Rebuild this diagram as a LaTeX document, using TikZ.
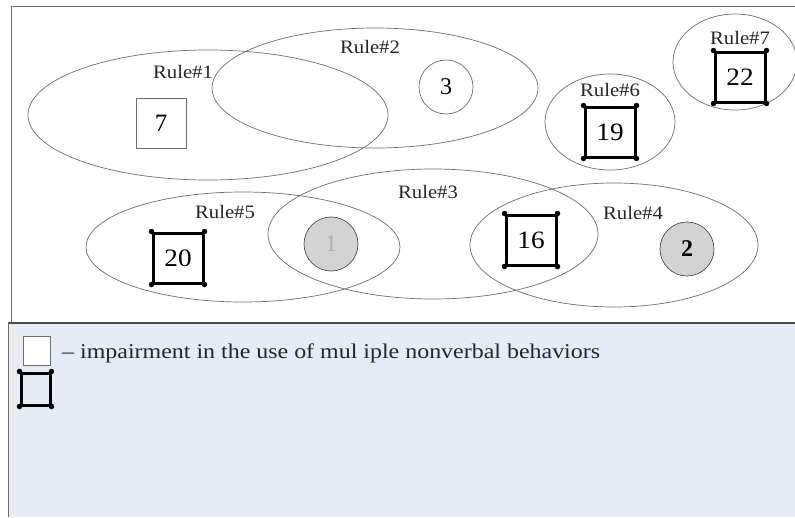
\documentclass[tikz,border=0pt]{standalone}
\usepackage{fontspec}
\setmainfont{Liberation Serif}
\usetikzlibrary{shapes.geometric}
\definecolor{panelblue}{HTML}{E5ECF6}
\definecolor{linegray}{HTML}{6E6E6E}
\definecolor{circfill}{HTML}{D3D3D3}
\newcommand{\hs}[1]{\scalebox{1.09}[1]{#1}}
\tikzset{
  rulering/.style={draw=linegray, line width=0.7pt, ellipse, inner sep=0pt},
  rulelabel/.style={inner sep=0pt, font=\fontsize{19}{20}\selectfont, text=black!85},
  numbox/.style={draw=linegray, line width=0.8pt, minimum width=50pt, minimum height=50pt, inner sep=0pt, font=\fontsize{25}{26}\selectfont},
  thickbox/.style={draw=black, line width=3pt, minimum width=50pt, minimum height=50pt, inner sep=0pt, font=\fontsize{25}{26}\selectfont},
  numcirc/.style={draw=linegray, line width=0.7pt, circle, minimum size=54pt, inner sep=0pt, font=\fontsize{24}{25}\selectfont},
  graycirc/.style={numcirc, fill=circfill, draw=black!70},
  cornerdot/.style={fill=black, circle, inner sep=0pt, minimum size=5.5pt}
}
\newcommand{\cornerdots}[1]{%
  \node[cornerdot] at (#1.north west) {};
  \node[cornerdot] at (#1.north east) {};
  \node[cornerdot] at (#1.south west) {};
  \node[cornerdot] at (#1.south east) {};}
\begin{document}
\begin{tikzpicture}[x=1pt,y=-1pt]
\useasboundingbox (0,0) rectangle (795,517);
% panels
\fill[white] (0,0) rectangle (795,517);
\fill[panelblue] (8,323) rectangle (795,517);
\draw[linegray, line width=0.8pt] (11,323) -- (11,6) -- (795,6);
\draw[black!70, line width=1.6pt] (8,323) -- (795,323);
\draw[linegray, line width=1pt] (8,323) -- (8,517);

% rule ellipses
\node[rulering, minimum width=360pt, minimum height=130pt] (r1) at (208,115) {};
\node[rulering, minimum width=326pt, minimum height=120pt] (r2) at (375,88) {};
\node[rulering, minimum width=330pt, minimum height=130pt] (r3) at (433,234) {};
\node[rulering, minimum width=288pt, minimum height=124pt] (r4) at (614,245) {};
\node[rulering, minimum width=314pt, minimum height=110pt] (r5) at (243,247) {};
\node[rulering, minimum width=130pt, minimum height=96pt] (r6) at (610,122) {};
\node[rulering, minimum width=124pt, minimum height=96pt] (r7) at (735,62) {};

% labels
\node[rulelabel] (l1) at (183,72) {\hs{Rule\#1}};
\node[rulelabel] (l2) at (370,47) {\hs{Rule\#2}};
\node[rulelabel] (l3) at (428,192) {\hs{Rule\#3}};
\node[rulelabel] (l4) at (633,213) {\hs{Rule\#4}};
\node[rulelabel] (l5) at (225,212) {\hs{Rule\#5}};
\node[rulelabel] (l6) at (610,90) {\hs{Rule\#6}};
\node[rulelabel] (l7) at (740,38) {\hs{Rule\#7}};

% members
\node[numbox] (n7) at (161,123) {7};
\node[numcirc] (n3) at (446,87) {3};
\node[thickbox] (n19) at (610,132) {\hs{19}};
\cornerdots{n19}
\node[thickbox] (n22) at (740,77) {\hs{22}};
\cornerdots{n22}
\node[thickbox] (n20) at (178,258) {\hs{20}};
\cornerdots{n20}
\node[graycirc, text=black!30] (n1) at (331,244) {1};
\node[thickbox] (n16) at (531,240) {\hs{16}};
\cornerdots{n16}
\node[graycirc] (n2) at (687,249) {\textbf{2}};

% legend
\node[draw=linegray, fill=white, line width=0.8pt, minimum width=27pt, minimum height=29pt, inner sep=0pt] (lg1) at (36.5,350.5) {};
\node[anchor=west, inner sep=0pt, font=\fontsize{21}{22}\selectfont, text=black!85] (lgt) at (62,353) {\scalebox{1.14}[1]{– impairment in the use of mul iple nonverbal behaviors}};
\node[draw=black, line width=3pt, minimum width=29pt, minimum height=32pt, inner sep=0pt] (lg2) at (35.5,389) {};
\cornerdots{lg2}
\end{tikzpicture}
\end{document}
